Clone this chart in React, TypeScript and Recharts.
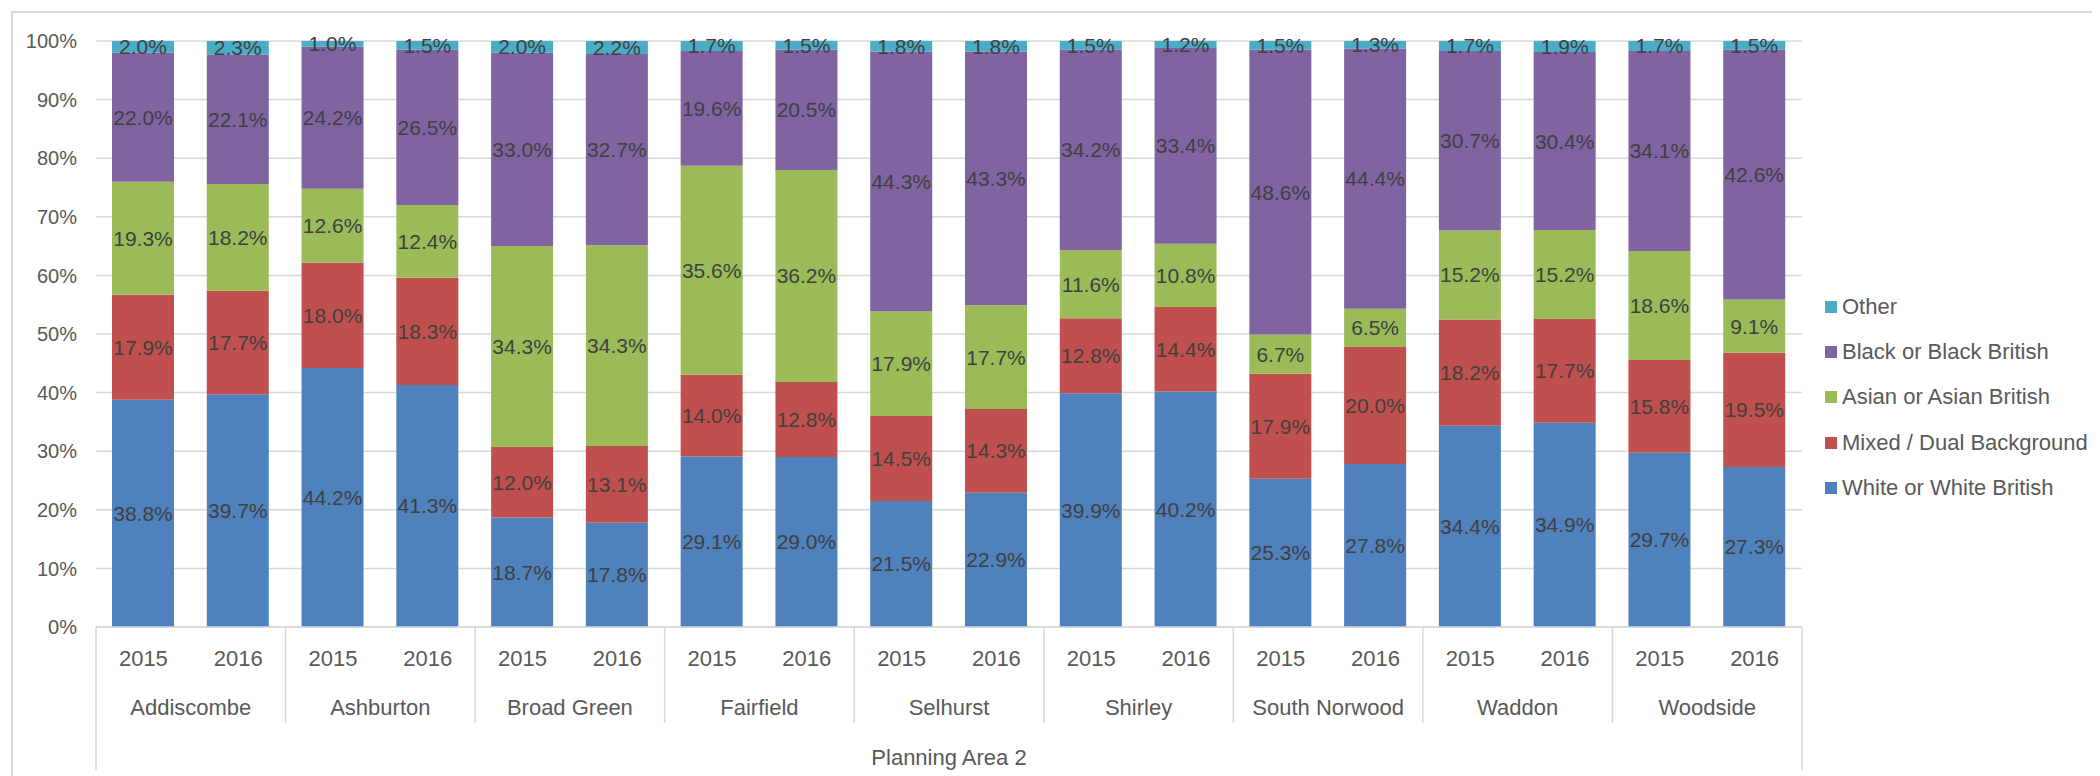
import { Bar, BarChart, CartesianGrid, LabelList, XAxis, YAxis } from 'recharts'

const wards = [
  'Addiscombe',
  'Ashburton',
  'Broad Green',
  'Fairfield',
  'Selhurst',
  'Shirley',
  'South Norwood',
  'Waddon',
  'Woodside',
]
const years = ['2015', '2016']

// one value per bar: ward by ward, 2015 then 2016
const white = [38.8, 39.7, 44.2, 41.3, 18.7, 17.8, 29.1, 29.0, 21.5, 22.9, 39.9, 40.2, 25.3, 27.8, 34.4, 34.9, 29.7, 27.3]
const mixed = [17.9, 17.7, 18.0, 18.3, 12.0, 13.1, 14.0, 12.8, 14.5, 14.3, 12.8, 14.4, 17.9, 20.0, 18.2, 17.7, 15.8, 19.5]
const asian = [19.3, 18.2, 12.6, 12.4, 34.3, 34.3, 35.6, 36.2, 17.9, 17.7, 11.6, 10.8, 6.7, 6.5, 15.2, 15.2, 18.6, 9.1]
const black = [22.0, 22.1, 24.2, 26.5, 33.0, 32.7, 19.6, 20.5, 44.3, 43.3, 34.2, 33.4, 48.6, 44.4, 30.7, 30.4, 34.1, 42.6]
const other = [2.0, 2.3, 1.0, 1.5, 2.0, 2.2, 1.7, 1.5, 1.8, 1.8, 1.5, 1.2, 1.5, 1.3, 1.7, 1.9, 1.7, 1.5]

const yTicks = [0, 0.1, 0.2, 0.3, 0.4, 0.5, 0.6, 0.7, 0.8, 0.9, 1]

const series = [
  { key: 'white', name: 'White or White British', color: '#4F81BD' },
  { key: 'mixed', name: 'Mixed / Dual Background', color: '#C0504D' },
  { key: 'asian', name: 'Asian or Asian British', color: '#9BBB59' },
  { key: 'black', name: 'Black or Black British', color: '#8064A2' },
  { key: 'other', name: 'Other', color: '#4BACC6' },
]

const data = white.map((w, i) => ({
  key: `${wards[Math.floor(i / 2)]} ${years[i % 2]}`,
  white: w,
  mixed: mixed[i],
  asian: asian[i],
  black: black[i],
  other: other[i],
}))

const FONT = '"Liberation Sans", Arial, sans-serif'
const GRID = '#D9D9D9'
const TEXT = '#595959'

const CHART_W = 2087
const MARGIN = { top: 28, right: 298, bottom: 10, left: 0 }
const Y_W = 83
const PLOT_W = CHART_W - MARGIN.left - MARGIN.right - Y_W
const BAND = PLOT_W / data.length
const AXIS_H = 143

function CategoryTick(props: any) {
  const { x, y, payload } = props
  const i = payload.index
  const first = i % 2 === 0
  return (
    <g>
      <text x={x} y={y + 31} textAnchor='middle' dominantBaseline='central' fill={TEXT} fontSize={22} fontFamily={FONT}>
        {years[i % 2]}
      </text>
      {first && (
        <>
          <text x={x + BAND / 2} y={y + 80} textAnchor='middle' dominantBaseline='central' fill={TEXT} fontSize={22} fontFamily={FONT}>
            {wards[i / 2]}
          </text>
          <line x1={x - BAND / 2} x2={x - BAND / 2} y1={y} y2={y + (i === 0 ? AXIS_H : 96)} stroke={GRID} strokeWidth={1.5} />
        </>
      )}
      {i === data.length - 1 && (
        <line x1={x + BAND / 2} x2={x + BAND / 2} y1={y} y2={y + AXIS_H} stroke={GRID} strokeWidth={1.5} />
      )}
    </g>
  )
}

function LegendBox() {
  return (
    <div style={{ position: 'absolute', left: 1812, top: 271, fontFamily: FONT, fontSize: 22, color: TEXT }}>
      {[...series].reverse().map((s) => (
        <div key={s.key} style={{ display: 'flex', alignItems: 'center', height: 45.3, whiteSpace: 'nowrap' }}>
          <span style={{ width: 12, height: 12, background: s.color, marginRight: 5 }} />
          <span>{s.name}</span>
        </div>
      ))}
    </div>
  )
}

export default function App() {
  return (
    <div
      style={{
        position: 'relative',
        marginTop: 3,
        marginLeft: 3,
        width: 2090,
        height: 775,
        border: `2px solid ${GRID}`,
        borderRight: 'none',
        borderBottom: 'none',
        background: '#fff',
      }}
    >
      <BarChart width={CHART_W} height={767} data={data} stackOffset='expand' margin={MARGIN}>
        <CartesianGrid vertical={false} stroke={GRID} strokeWidth={1.5} />
        <XAxis
          dataKey='key'
          interval={0}
          height={AXIS_H}
          tickSize={0}
          tickMargin={0}
          tickLine={false}
          axisLine={{ stroke: GRID, strokeWidth: 1.5 }}
          tick={<CategoryTick />}
          label={{
            value: 'Planning Area 2',
            position: 'insideBottom',
            offset: 5,
            fill: TEXT,
            fontSize: 22,
            fontFamily: FONT,
          }}
        />
        <YAxis
          width={Y_W}
          ticks={yTicks}
          domain={[0, 1]}
          tickLine={false}
          axisLine={false}
          tickSize={0}
          tickMargin={19}
          tick={{ fill: TEXT, fontSize: 20, fontFamily: FONT }}
          tickFormatter={(v) => `${Math.round(v * 100)}%`}
        />
        {series.map((s) => (
          <Bar key={s.key} dataKey={s.key} name={s.name} stackId='a' fill={s.color} barSize={62} isAnimationActive={false}>
            <LabelList
              dataKey={s.key}
              position='center'
              fill='#404040'
              fontSize={21}
              fontFamily={FONT}
              formatter={(v: any) => `${Number(v).toFixed(1)}%`}
            />
          </Bar>
        ))}
      </BarChart>
      <LegendBox />
    </div>
  )
}
